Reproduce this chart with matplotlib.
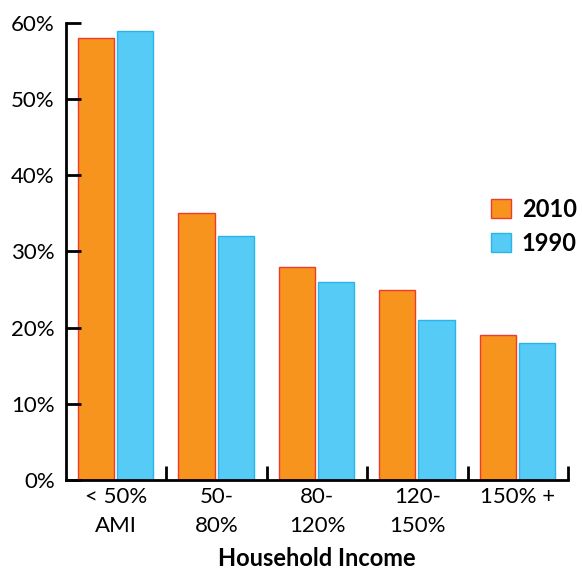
import numpy as np
import matplotlib.pyplot as plt

groups = ['< 50%\nAMI', '50-\n80%', '80-\n120%', '120-\n150%', '150% +']
vals_2010 = [58, 35, 28, 25, 19]
vals_1990 = [59, 32, 26, 21, 18]
y_ticks = [0, 10, 20, 30, 40, 50, 60]

plt.rcParams['font.family'] = ['Lato', 'DejaVu Sans']

fig = plt.figure(figsize=(5.82, 5.73), dpi=100)
ax = fig.add_axes([0.1134, 0.1623, 0.8626, 0.7976])

x = np.arange(len(groups)) + 0.5
ax.bar(x - 0.2, vals_2010, width=0.36, color='#f7941e', edgecolor='#ee3b2b',
       linewidth=1, label='2010')
ax.bar(x + 0.19, vals_1990, width=0.36, color='#55cbf5', edgecolor='#29b5ea',
       linewidth=1, label='1990')

ax.set_xlim(0, 5)
ax.set_ylim(0, 60)

for s in ['top', 'right']:
    ax.spines[s].set_visible(False)
for s in ['left', 'bottom']:
    ax.spines[s].set_linewidth(2)

ax.set_yticks(y_ticks)
ax.set_yticklabels([f'{v}%' for v in y_ticks], fontsize=16)
ax.tick_params(axis='y', direction='in', length=11, width=2, pad=8)

# boundary ticks between groups, labels sit on minor ticks at group centres
ax.set_xticks([1, 2, 3, 4, 5])
ax.set_xticklabels([])
ax.tick_params(axis='x', which='major', direction='in', length=10, width=2)
ax.set_xticks(x, minor=True)
ax.set_xticklabels(groups, minor=True, fontsize=16, linespacing=1.55)
ax.tick_params(axis='x', which='minor', length=0, pad=5)

ax.set_xlabel('Household Income', fontsize=17, fontweight='bold', labelpad=8)

ax.legend(loc='upper left', bbox_to_anchor=(0.847, 0.617), frameon=False,
          prop={'weight': 'bold', 'size': 17}, borderpad=0, borderaxespad=0,
          handlelength=0.85, handleheight=0.85, handletextpad=0.45,
          labelspacing=0.45)

fig.savefig('out.png', dpi=100)
